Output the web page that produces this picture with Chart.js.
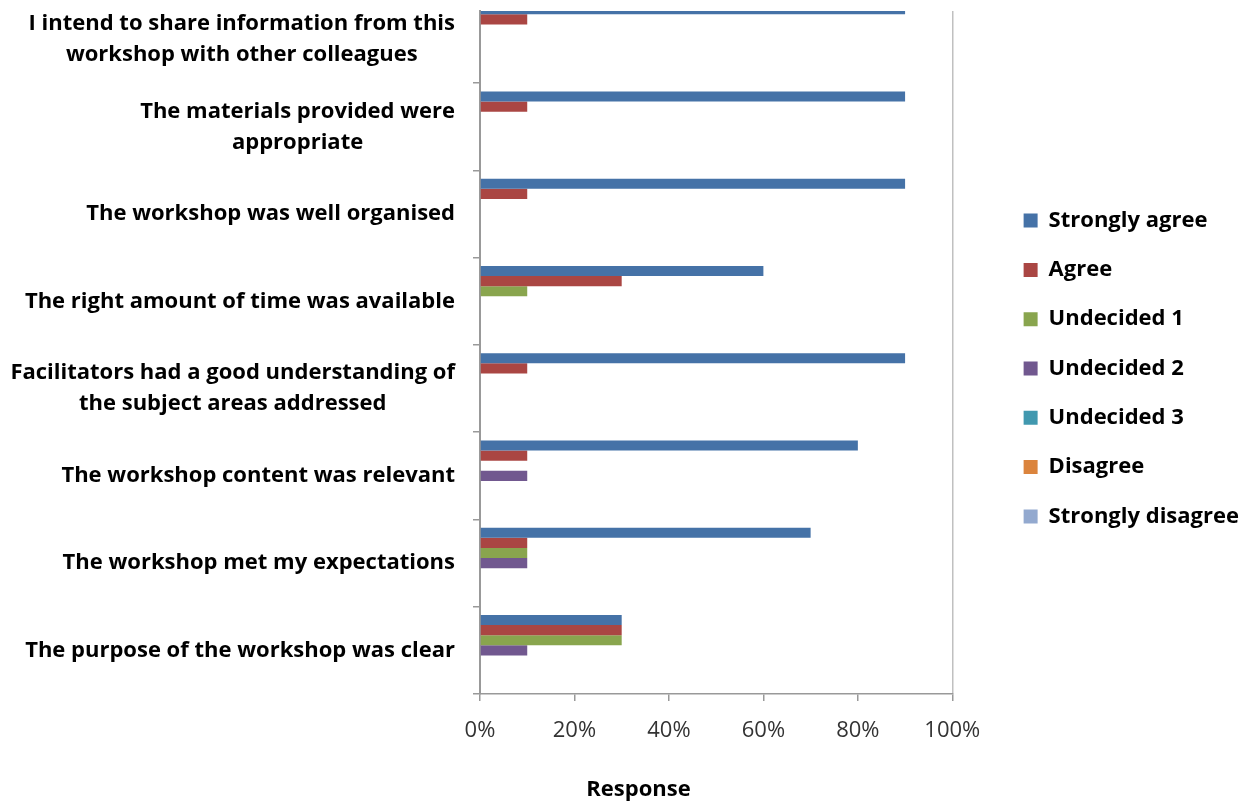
<!DOCTYPE html>
<html>
<head>
<meta charset="utf-8">
<title>Workshop evaluation - Response</title>
<script src="https://cdn.jsdelivr.net/npm/chart.js@4.4.1/dist/chart.umd.min.js"></script>
<style>
    html, body { margin: 0; padding: 0; background: #fff; }
</style>
</head>
<body>
<canvas id="responseChart" width="1251" height="803"></canvas>
<script>
// Statements, top to bottom (one entry per line of the label)
var statements = [
    ['I intend to share information from this', 'workshop with other colleagues'],
    ['The materials provided were', 'appropriate'],
    ['The workshop was well organised'],
    ['The right amount of time was available'],
    ['Facilitators had a good understanding of', 'the subject areas addressed'],
    ['The workshop content was relevant'],
    ['The workshop met my expectations'],
    ['The purpose of the workshop was clear']
];

var seriesNames = ['Strongly agree', 'Agree', 'Undecided 1', 'Undecided 2', 'Undecided 3', 'Disagree', 'Strongly disagree'];
var seriesColors = ['#4572A7', '#AA4643', '#89A54E', '#71588F', '#4198AF', '#DB843D', '#93A9CF'];

// Percent of responses per statement
var stronglyAgree    = [90, 90, 90, 60, 90, 80, 70, 30];
var agree            = [10, 10, 10, 30, 10, 10, 10, 30];
var undecided1       = [0, 0, 0, 10, 0, 0, 10, 30];
var undecided2       = [0, 0, 0, 0, 0, 10, 10, 10];
var undecided3       = [0, 0, 0, 0, 0, 0, 0, 0];
var disagree         = [0, 0, 0, 0, 0, 0, 0, 0];
var stronglyDisagree = [0, 0, 0, 0, 0, 0, 0, 0];

var xMin = 0, xMax = 100, xStep = 20;

// layout tuning
var topCut = 0.172;            // part of the first band hidden above the plot
var legendShift = { x: 44, y: 16 };
var padRight = 46;
var padLeft = padRight + 26;
var fontName = 'Open Sans';
var labelFont = 'bold 22px "Open Sans"';
var labelLineHeight = 31;

var seriesValues = [stronglyAgree, agree, undecided1, undecided2, undecided3, disagree, stronglyDisagree];

var excelLayout = {
    id: 'excelLayout',
    afterLayout: function (chart) {
        var ys = chart.scales.y;
        ys._startValue = -0.5 + topCut;
        ys._valueRange = statements.length - topCut;

        var lg = chart.legend;
        lg.left += legendShift.x; lg.right += legendShift.x;
        lg.top += legendShift.y; lg.bottom += legendShift.y;
    },
    afterDraw: function (chart) {
        // statement labels: block right aligned, lines centred in the block
        var ys = chart.scales.y;
        var ctx = chart.ctx;
        var right = chart.chartArea.left - 7 - 18;
        ctx.save();
        ctx.font = labelFont;
        ctx.fillStyle = '#000';
        ctx.textAlign = 'center';
        ctx.textBaseline = 'middle';
        statements.forEach(function (lines, i) {
            var w = 0;
            lines.forEach(function (l) { w = Math.max(w, ctx.measureText(l).width); });
            var cy = ys.getPixelForValue(i);
            lines.forEach(function (l, k) {
                ctx.fillText(l, right - w / 2, cy + (k - (lines.length - 1) / 2) * labelLineHeight);
            });
        });
        ctx.restore();
    }
};

var ctx = document.getElementById('responseChart').getContext('2d');
var responseChart = new Chart(ctx, {
    type: 'bar',
    data: {
        labels: statements.map(function (s) { return s.join(' '); }),
        datasets: seriesNames.map(function (name, i) {
            return {
                label: name,
                data: seriesValues[i],
                backgroundColor: seriesColors[i],
                borderWidth: 0,
                barPercentage: 1,
                categoryPercentage: 0.813,
                clip: 0
            };
        })
    },
    options: {
        indexAxis: 'y',
        responsive: false,
        animation: false,
        layout: {
            padding: { top: 11, right: padRight, bottom: 0, left: padLeft }
        },
        scales: {
            x: {
                min: xMin,
                max: xMax,
                ticks: {
                    stepSize: xStep,
                    padding: 17,
                    color: '#333',
                    font: { family: fontName, size: 22 },
                    callback: function (v) { return v + '%'; }
                },
                grid: {
                    color: function (c) { return c.tick && c.tick.value === xMax ? '#c0c0c0' : 'rgba(0,0,0,0)'; },
                    lineWidth: 1.5,
                    tickColor: '#999',
                    tickLength: 7
                },
                border: { color: '#999', width: 1.5 },
                afterFit: function (s) { s.height = 82.6; }
            },
            y: {
                ticks: { display: false },
                grid: {
                    drawOnChartArea: false,
                    tickColor: '#999',
                    tickLength: 7,
                    lineWidth: 1.5
                },
                border: { color: '#999', width: 2 },
                afterFit: function (s) { s.width = 480 - padLeft; }
            }
        },
        plugins: {
            legend: {
                position: 'right',
                fullSize: false,
                labels: {
                    boxWidth: 14,
                    boxHeight: 14,
                    padding: 27.3,
                    color: '#000',
                    font: { family: fontName, size: 22, weight: 'bold' }
                }
            },
            title: {
                display: true,
                text: 'Response',
                position: 'bottom',
                color: '#000',
                font: { family: fontName, size: 22, weight: 'bold', lineHeight: 1.2 },
                padding: { top: 0, bottom: 0 }
            },
            tooltip: { enabled: false }
        }
    },
    plugins: [excelLayout]
});
</script>
</body>
</html>
